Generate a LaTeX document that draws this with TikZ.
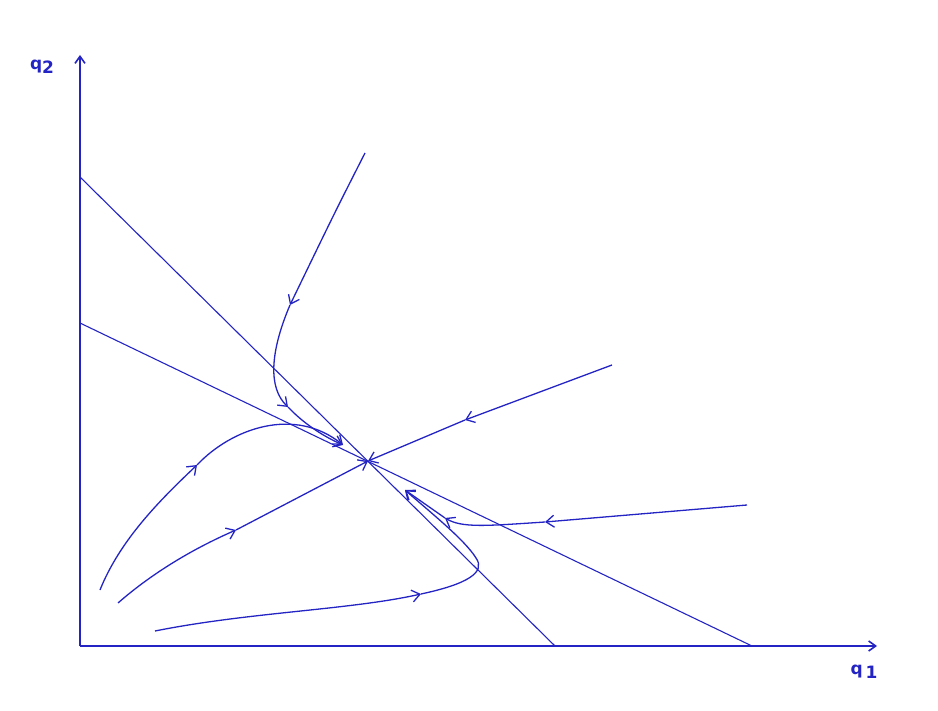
\documentclass[tikz,border=0pt]{standalone}
\usepackage{fontspec}
\setsansfont{DejaVu Sans}
\usepackage{tikz}
\usetikzlibrary{arrows.meta}
\definecolor{phblue}{HTML}{2424C4}
\tikzset{
  axisline/.style={draw=phblue,line width=1.6pt,-{Straight Barb[length=7pt,width=10pt]}},
  isocline/.style={draw=phblue,line width=1.1pt},
  traj/.style={draw=phblue,line width=1.3pt},
  flow/.style={traj,-{Straight Barb[length=8pt,width=12pt]}},
  axlabel/.style={text=phblue,font=\sffamily\bfseries\fontsize{17}{17}\selectfont,inner sep=0pt}
}
\begin{document}
\begin{tikzpicture}[x=1pt,y=-1pt]
    \useasboundingbox (0,0) rectangle (938,711);
    % axes
    \coordinate (O) at (80,646);
    \coordinate (ytop) at (80,55);
    \coordinate (xend) at (877,646);
    \draw[axisline] (O)--(ytop);
    \draw[axisline] (O)--(xend);
    \node[axlabel] (lq2) at (42,67) {q\raisebox{-0.45ex}{2}};
    \node[axlabel] (lq1) at (864,672) {q\,\raisebox{-0.45ex}{1}};
    % isoclines
    \coordinate (E) at (368,461);
    \draw[isocline] (80,177)--(555,646);
    \draw[isocline] (80,323)--(752,646);
    % trajectory from the top
    \draw[flow] (365,153) .. controls (335,212) .. (290,305);
    \draw[flow] (290,305) .. controls (270,352) and (268,388) .. (288,407);
    \draw[flow] (288,407) .. controls (305,425) and (325,437) .. (343,445);
    % trajectory from lower left, over the top
    \draw[flow] (100,590) .. controls (120,540) and (160,500) .. (197,465);
    \draw[flow] (197,465) .. controls (232,428) and (295,406) .. (343,445);
    % straight in from the right
    \draw[flow] (612,365)--(465,420);
    \draw[flow] (465,420)--(E);
    % from the lower left into E
    \draw[flow] (118,603) .. controls (150,575) and (190,550) .. (236,530);
    \draw[flow] (236,530)--(E);
    % from the right, low
    \draw[flow] (747,505)--(545,522);
    \draw[flow] (545,522) .. controls (485,526) and (462,528) .. (445,518);
    \draw[flow] (445,518)--(405,490);
    % from the bottom
    \draw[flow] (155,631) .. controls (250,612) and (350,610) .. (421,594);
    \draw[traj] (421,594) .. controls (468,584) and (486,572) .. (476,558);
    \draw[flow] (476,558) .. controls (465,540) and (430,512) .. (405,490);
  \end{tikzpicture}
\end{document}
